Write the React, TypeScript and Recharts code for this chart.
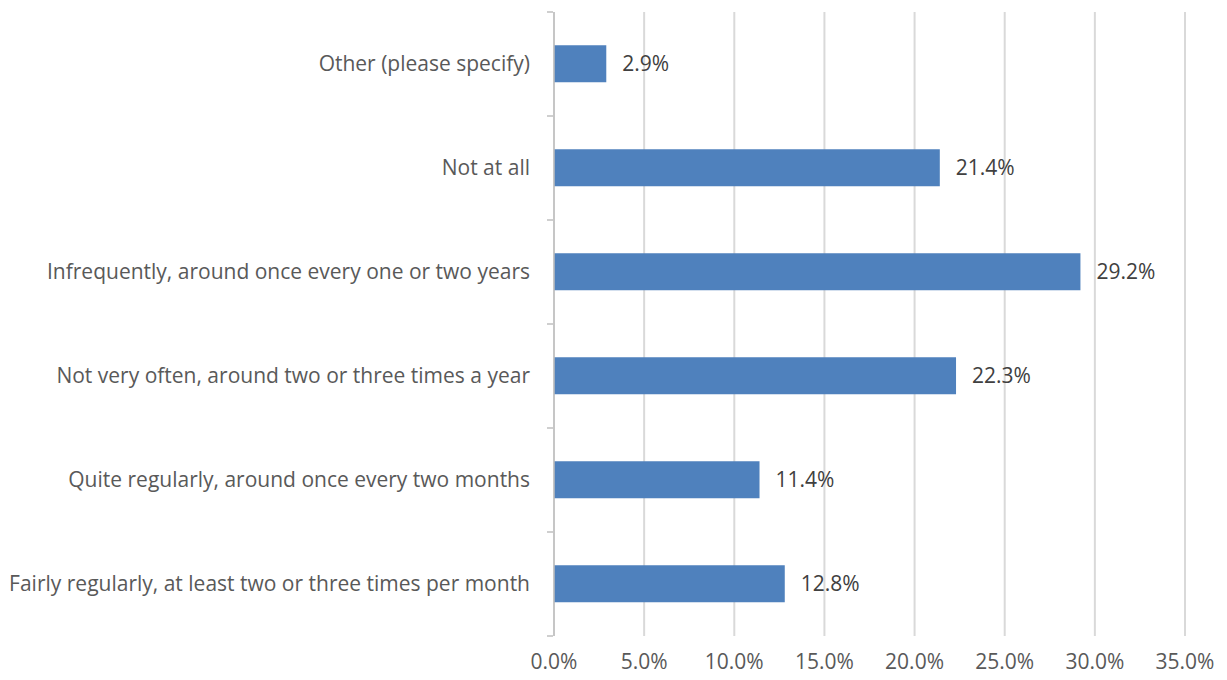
import { BarChart, Bar, XAxis, YAxis, CartesianGrid, LabelList } from "recharts";

const categories = [
  "Other (please specify)",
  "Not at all",
  "Infrequently, around once every one or two years",
  "Not very often, around two or three times a year",
  "Quite regularly, around once every two months",
  "Fairly regularly, at least two or three times per month",
];
const shares = [2.9, 21.4, 29.2, 22.3, 11.4, 12.8];
const xTicks = [0, 5, 10, 15, 20, 25, 30, 35];

const data = categories.map((name, i) => ({ name, value: shares[i] }));

const FONT = "'Open Sans', sans-serif";

function CategoryTick(props: any) {
  const { x, y, payload, index } = props;
  const half = 52;
  return (
    <g>
      <line x1={x + 22} x2={x + 28} y1={y - half} y2={y - half} stroke="#bfbfbf" strokeWidth={1.5} />
      {index === categories.length - 1 && (
        <line x1={x + 22} x2={x + 28} y1={y + half} y2={y + half} stroke="#bfbfbf" strokeWidth={1.5} />
      )}
      <text x={x + 5} y={y} dy={7} textAnchor="end" fill="#595959" fontSize={21} fontFamily={FONT}>
        {payload.value}
      </text>
    </g>
  );
}

export default function App() {
  return (
    <div style={{ position: "absolute", left: 0, top: 0 }}>
      <BarChart
        width={1227}
        height={680}
        data={data}
        layout="vertical"
        margin={{ top: 12, right: 42, bottom: 0, left: 0 }}
        barCategoryGap="32%"
      >
        <CartesianGrid horizontal={false} stroke="#d9d9d9" strokeWidth={2} />
        <XAxis
          type="number"
          domain={[0, 35]}
          ticks={xTicks}
          height={44}
          tickFormatter={(v: number) => `${v.toFixed(1)}%`}
          axisLine={false}
          tickLine={false}
          tick={{ fill: "#595959", fontSize: 21, fontFamily: FONT }}
          tickMargin={12}
        />
        <YAxis
          type="category"
          dataKey="name"
          width={554}
          axisLine={{ stroke: "#bfbfbf", strokeWidth: 1.5 }}
          tickLine={false}
          tickMargin={23}
          tick={<CategoryTick />}
          interval={0}
        />
        <Bar dataKey="value" fill="#4f81bd" isAnimationActive={false}>
          <LabelList
            dataKey="value"
            position="right"
            offset={16}
            formatter={(v: number) => `${v.toFixed(1)}%`}
            fill="#404040"
            fontSize={21}
            fontFamily={FONT}
          />
        </Bar>
      </BarChart>
    </div>
  );
}
